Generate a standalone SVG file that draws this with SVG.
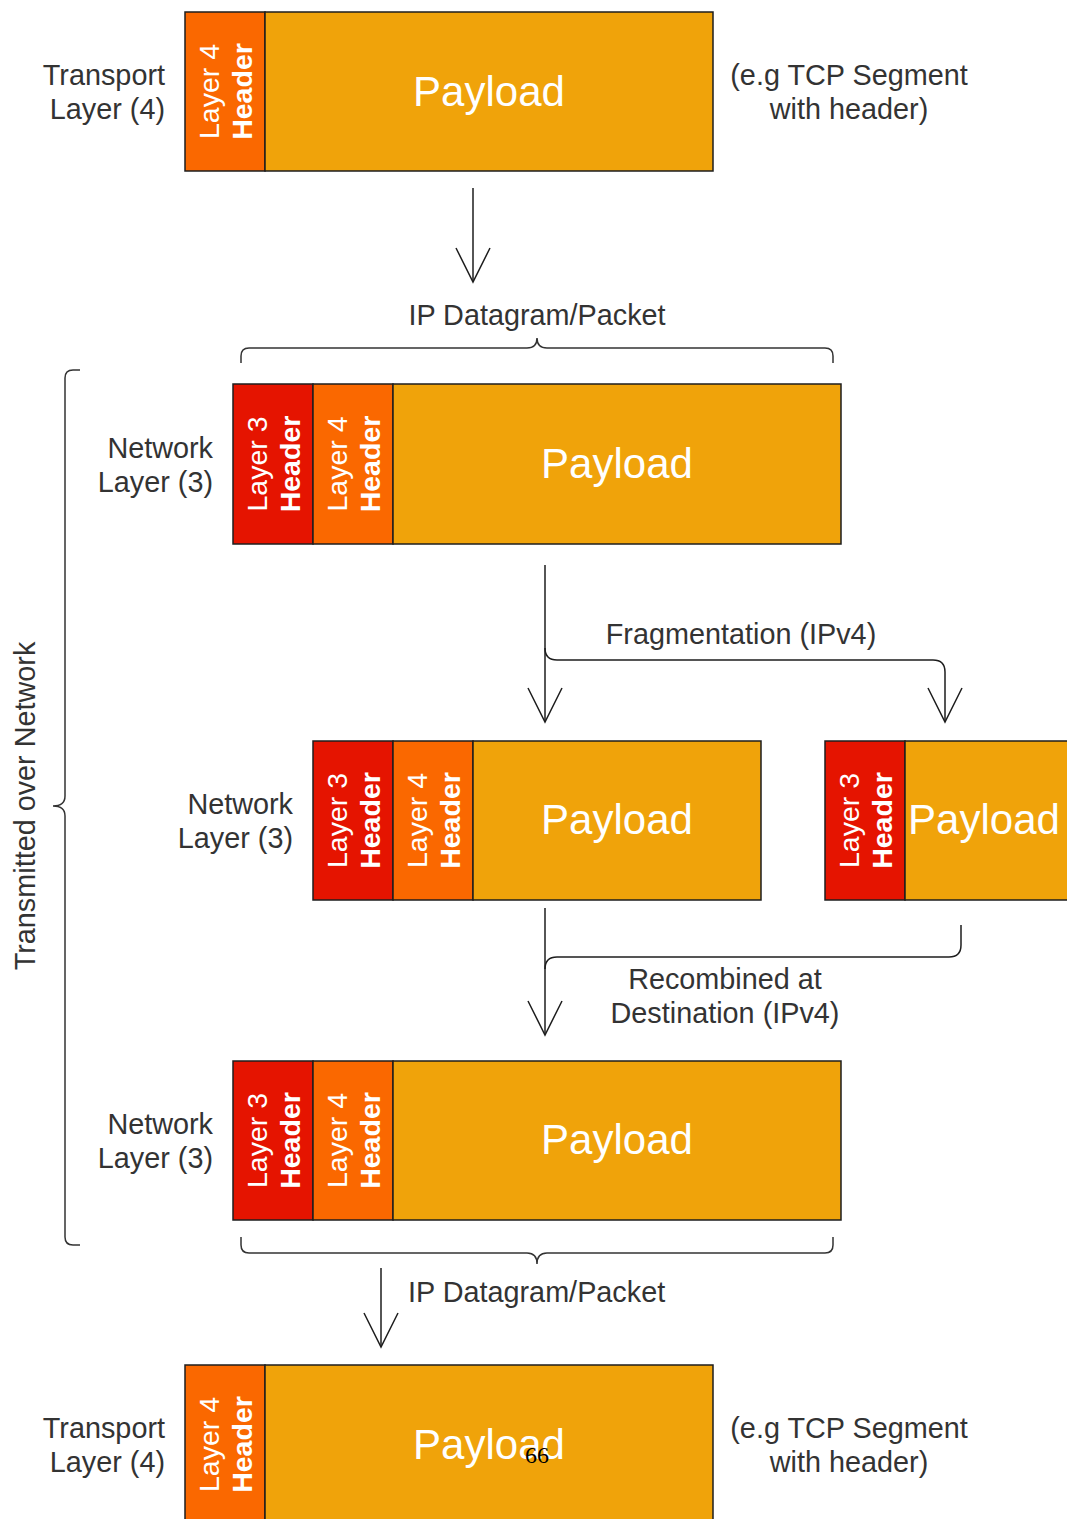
<svg xmlns="http://www.w3.org/2000/svg" width="1067" height="1519" viewBox="0 0 1067 1519">
<style>
.bg{fill:#ffffff}
.blk{stroke:#1e1e1e;stroke-width:1.5}
.l3{fill:#E51400}
.l4{fill:#FA6800}
.pl{fill:#F0A30A}
text{font-family:"Liberation Sans",Arial,Helvetica,sans-serif}
.pt{fill:#ffffff;font-size:42px;text-anchor:middle}
.ht{fill:#ffffff;font-size:28.5px;text-anchor:middle}
.hb{font-weight:bold}
.lbl{fill:#333333;font-size:28.8px}
.r{text-anchor:end}
.c{text-anchor:middle}
.conn{stroke:#1e1e1e;stroke-width:1.5;fill:none}
.brace{stroke:#333333;stroke-width:1.5;fill:none}
</style>
<defs>
<marker id="open" markerUnits="userSpaceOnUse" viewBox="0 -20 40 40" markerWidth="40" markerHeight="40" refX="34" refY="0" orient="auto" overflow="visible">
<path d="M0,-17 L34,0 L0,17" fill="none" stroke="#1e1e1e" stroke-width="1.5"/>
</marker>
</defs>
<rect class="bg" x="0" y="0" width="1067" height="1519"/>

<g id="connectors">
<path class="conn" d="M473,188 L473,282" marker-end="url(#open)"/>
<path class="conn" d="M545,565 L545,722" marker-end="url(#open)"/>
<path class="conn" d="M545,648 Q545,660 557,660 L933,660 Q945,660 945,672 L945,722" marker-end="url(#open)"/>
<path class="conn" d="M545,908 L545,1035" marker-end="url(#open)"/>
<path class="conn" d="M961,925 L961,945 Q961,957 949,957 L557,957 Q545,957 545,969"/>
<path class="conn" d="M381,1268 L381,1347" marker-end="url(#open)"/>
<text class="lbl c" x="741" y="644">Fragmentation (IPv4)</text>
<text class="lbl c" x="725" y="989">Recombined at</text>
<text class="lbl c" x="725" y="1023">Destination (IPv4)</text>
<text class="lbl" x="408" y="1302">IP Datagram/Packet</text>
</g>

<g id="brace-top">
<path class="brace" d="M241,363 L241,356 Q241,348 249,348 L527,348 Q537,348 537,338 Q537,348 547,348 L825,348 Q833,348 833,356 L833,363"/>
<text class="lbl c" x="537" y="325">IP Datagram/Packet</text>
</g>

<g id="brace-bottom">
<path class="brace" d="M241,1237 L241,1245 Q241,1253 249,1253 L527,1253 Q537,1253 537,1264 Q537,1253 547,1253 L825,1253 Q833,1253 833,1245 L833,1237"/>
</g>

<g id="brace-left">
<path class="brace" d="M80,370 L73,370 Q65,370 65,378 L65,796 Q65,806 53,806 Q65,806 65,816 L65,1237 Q65,1245 73,1245 L80,1245"/>
<text class="lbl c" transform="translate(25,806) rotate(-90)" x="0" y="10">Transmitted over Network</text>
</g>

<g id="segment-top">
<rect class="blk l4" x="185" y="12" width="80" height="159"/>
<rect class="blk pl" x="265" y="12" width="448" height="159"/>
<text class="ht" transform="translate(225,91.5) rotate(-90)"><tspan x="0" y="-6">Layer 4</tspan><tspan class="hb" x="0" y="27">Header</tspan></text>
<text class="pt" x="489" y="106">Payload</text>
<text class="lbl r" x="165" y="85">Transport</text>
<text class="lbl r" x="165" y="119">Layer (4)</text>
<text class="lbl c" x="849" y="85">(e.g TCP Segment</text>
<text class="lbl c" x="849" y="119">with header)</text>
</g>

<g id="packet-1">
<rect class="blk l3" x="233" y="384" width="80" height="160"/>
<rect class="blk l4" x="313" y="384" width="80" height="160"/>
<rect class="blk pl" x="393" y="384" width="448" height="160"/>
<text class="ht" transform="translate(273,464) rotate(-90)"><tspan x="0" y="-6">Layer 3</tspan><tspan class="hb" x="0" y="27">Header</tspan></text>
<text class="ht" transform="translate(353,464) rotate(-90)"><tspan x="0" y="-6">Layer 4</tspan><tspan class="hb" x="0" y="27">Header</tspan></text>
<text class="pt" x="617" y="478">Payload</text>
<text class="lbl r" x="213" y="458">Network</text>
<text class="lbl r" x="213" y="492">Layer (3)</text>
</g>

<g id="fragment-1">
<rect class="blk l3" x="313" y="741" width="80" height="159"/>
<rect class="blk l4" x="393" y="741" width="80" height="159"/>
<rect class="blk pl" x="473" y="741" width="288" height="159"/>
<text class="ht" transform="translate(353,820.5) rotate(-90)"><tspan x="0" y="-6">Layer 3</tspan><tspan class="hb" x="0" y="27">Header</tspan></text>
<text class="ht" transform="translate(433,820.5) rotate(-90)"><tspan x="0" y="-6">Layer 4</tspan><tspan class="hb" x="0" y="27">Header</tspan></text>
<text class="pt" x="617" y="834">Payload</text>
<text class="lbl r" x="293" y="814">Network</text>
<text class="lbl r" x="293" y="848">Layer (3)</text>
</g>

<g id="fragment-2">
<rect class="blk l3" x="825" y="741" width="80" height="159"/>
<rect class="blk pl" x="905" y="741" width="170" height="159"/>
<text class="ht" transform="translate(865,820.5) rotate(-90)"><tspan x="0" y="-6">Layer 3</tspan><tspan class="hb" x="0" y="27">Header</tspan></text>
<text class="pt" x="984" y="834">Payload</text>
</g>

<g id="packet-2">
<rect class="blk l3" x="233" y="1061" width="80" height="159"/>
<rect class="blk l4" x="313" y="1061" width="80" height="159"/>
<rect class="blk pl" x="393" y="1061" width="448" height="159"/>
<text class="ht" transform="translate(273,1140.5) rotate(-90)"><tspan x="0" y="-6">Layer 3</tspan><tspan class="hb" x="0" y="27">Header</tspan></text>
<text class="ht" transform="translate(353,1140.5) rotate(-90)"><tspan x="0" y="-6">Layer 4</tspan><tspan class="hb" x="0" y="27">Header</tspan></text>
<text class="pt" x="617" y="1154">Payload</text>
<text class="lbl r" x="213" y="1134">Network</text>
<text class="lbl r" x="213" y="1168">Layer (3)</text>
</g>

<g id="segment-bottom">
<rect class="blk l4" x="185" y="1365" width="80" height="170"/>
<rect class="blk pl" x="265" y="1365" width="448" height="170"/>
<text class="ht" transform="translate(225,1444.5) rotate(-90)"><tspan x="0" y="-6">Layer 4</tspan><tspan class="hb" x="0" y="27">Header</tspan></text>
<text class="pt" x="489" y="1459">Payload</text>
<text class="lbl r" x="165" y="1438">Transport</text>
<text class="lbl r" x="165" y="1472">Layer (4)</text>
<text class="lbl c" x="849" y="1438">(e.g TCP Segment</text>
<text class="lbl c" x="849" y="1472">with header)</text>
</g>

<g id="page-number">
<text x="537" y="1463" style="font-family:'Liberation Serif','Times New Roman',serif;font-size:24px;fill:#000000;text-anchor:middle">66</text>
</g>
</svg>
